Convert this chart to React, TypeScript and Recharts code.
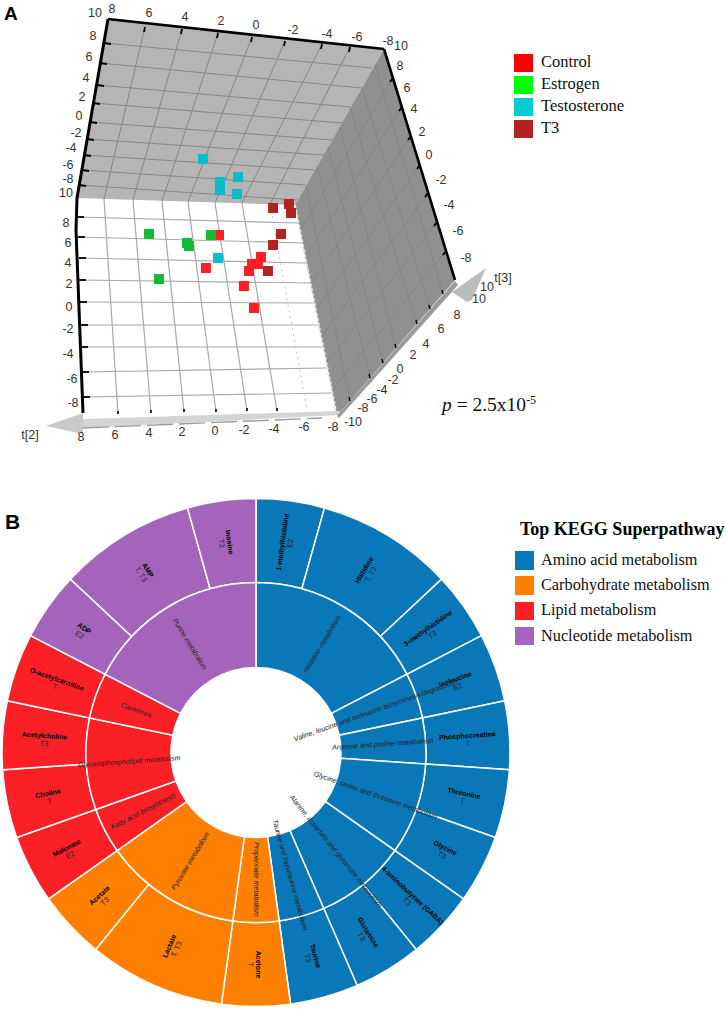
import React from "react";
import { ScatterChart, Scatter, XAxis, YAxis, PieChart, Pie, Cell } from "recharts";

// ---------- Panel A: score values (t[2], t[1]) ----------
const controlScores = [
  { u: -0.25, v: 6.64 }, { u: 0.57, v: 3.55 }, { u: -2.33, v: 3.93 }, { u: -2.89, v: 4.58 },
  { u: -2.7, v: 3.93 }, { u: -2.14, v: 3.27 }, { u: -1.82, v: 1.87 }, { u: -2.45, v: -0.19 },
];
const estrogenScores = [
  { u: 4.15, v: 6.73 }, { u: 1.76, v: 5.89 }, { u: 1.64, v: 5.61 }, { u: 0.25, v: 6.64 }, { u: 3.52, v: 2.52 },
];
const testosteroneScores = [
  { u: 0.75, v: 13.74 }, { u: -0.31, v: 11.59 }, { u: -0.31, v: 10.84 }, { u: -1.45, v: 12.06 },
  { u: -1.38, v: 10.47 }, { u: -0.19, v: 4.49 },
];
const t3Scores = [
  { u: -3.65, v: 9.16 }, { u: -4.65, v: 9.53 }, { u: -4.78, v: 8.69 }, { u: -4.15, v: 6.73 },
  { u: -3.65, v: 5.7 }, { u: -3.33, v: 3.27 },
];
const legendA = [
  { name: "Control", color: "#ff0000" },
  { name: "Estrogen", color: "#00ff00" },
  { name: "Testosterone", color: "#00ccd2" },
  { name: "T3", color: "#b22222" },
];

// Projection of the 3D box onto the picture plane
const A_W = 726, A_H = 470, U0 = 215, SX = 15.9, V0 = 306, SY = 10.7;
const u = (p: number) => (U0 - p) / SX;
const v = (p: number) => (V0 - p) / SY;
const P = (p: number[]) => ({ u: u(p[0]), v: v(p[1]) });

const backWall = [[108, 19], [384, 49], [295, 205], [77, 198]];
const sideWall = [[384, 49], [455, 280], [337, 416], [295, 205]];
const backVertical = [[145, 27, 104, 199], [182, 29, 133, 200], [218, 33, 162, 201], [252, 37, 188, 202], [285, 41, 215, 203], [322, 44, 242, 203], [350, 47, 270, 204]];
const backHorizontal = [[104, 43, 372, 68], [100, 63, 362, 88], [97, 85, 351, 107], [93, 103, 342, 123], [90, 122, 332, 140], [87, 139, 324, 155], [84, 155, 315, 170], [82, 170, 306, 185], [79, 185, 297, 200]];
const frontVertical = [[104, 199, 118, 414], [133, 200, 151, 413], [162, 201, 184, 412], [188, 202, 216, 412], [215, 203, 247, 411], [242, 203, 277, 411]];
const frontHorizontal = [[77, 217, 299, 223], [78, 237, 303, 243], [79, 258, 307, 263], [79, 280, 311, 283], [80, 302, 314, 303], [81, 325, 319, 325], [81, 347, 323, 347], [82, 372, 327, 368], [83, 397, 332, 393]];
const sideFamilyA = [[393, 78, 300, 231], [402, 107, 305, 258], [411, 136, 311, 284], [420, 165, 316, 310], [428, 193, 321, 337], [437, 222, 326, 363], [446, 251, 332, 390]];
const sideFamilyB = [[375, 65, 443, 294], [362, 88, 430, 309], [350, 108, 417, 324], [340, 127, 396, 348], [328, 147, 383, 363], [317, 166, 370, 378], [306, 186, 350, 401]];
const blackEdges = [
  { pts: [[108, 19], [77, 198], [76, 230], [83, 413]], w: 3 },
  { pts: [[108, 19], [384, 49]], w: 2.6 },
  { pts: [[384, 49], [455, 280]], w: 2.6 },
];
const floorBandA = [[83, 419], [340, 411], [340, 415], [83, 428]];
const floorBandB = [[337, 416], [455, 281], [458, 285], [339, 418]];
const arrowA = [[83, 413], [83, 434], [46, 426]];
const arrowB = [[486, 268], [452, 292], [467, 302], [472, 300]];
const tickLabels: [number, number, string][] = [
  [95, 13, "10"], [112, 9, "8"], [149, 13, "6"], [185, 17, "4"], [221, 21, "2"], [256, 25, "0"], [293, 30, "-2"], [327, 34, "-4"], [357, 37, "-6"], [388, 41, "-8"],
  [401, 46, "10"], [400, 66, "8"], [407, 88, "6"], [414, 109, "4"], [422, 132, "2"], [429, 155, "0"], [441, 180, "-2"], [449, 205, "-4"], [458, 231, "-6"], [466, 258, "-8"],
  [93, 36, "8"], [89, 57, "6"], [86, 78, "4"], [82, 97, "2"], [79, 116, "0"], [76, 133, "-2"], [71, 148, "-4"], [68, 165, "-6"], [68, 179, "-8"], [66, 193, "10"],
  [66, 223, "8"], [68, 243, "6"], [68, 263, "4"], [69, 284, "2"], [69, 307, "0"], [68, 329, "-2"], [68, 354, "-4"], [72, 379, "-6"], [73, 403, "-8"],
  [81, 437, "8"], [115, 435, "6"], [149, 433, "4"], [182, 432, "2"], [215, 431, "0"], [244, 430, "-2"], [274, 429, "-4"], [304, 427, "-6"], [333, 427, "-8"],
  [353, 422, "-10"], [363, 408, "-8"], [372, 399, "-6"], [382, 390, "-4"], [393, 380, "-2"], [400, 369, "0"], [413, 355, "2"], [426, 344, "4"], [441, 329, "6"], [457, 315, "8"], [479, 299, "10"], [487, 287, "10"],
  [30, 435, "t[2]"], [503, 278, "t[3]"],
];

// ---------- Panel B: sunburst, weights = number of groups a metabolite is significant in ----------
const leafNames = ["1-methylhistidine", "Histidine", "3-methylhistidine", "Isoleucine", "Phosphocreatine", "Threonine", "Glycine", "4-aminobutyrate (GABA)", "Glutamine", "Taurine", "Acetone", "Lactate", "Acetate", "Malonate", "Choline", "Acetylcholine", "O-acetylcarnitine", "ADP", "AMP", "Inosine"];
const leafTags = ["E2", "T, T3", "T3", "E2", "T", "T", "T3", "T3", "T3", "T3", "T", "T, T3", "T3", "E2", "T", "T3", "T", "E2", "T, T3", "T3"];
const leafWeights = [1, 2, 1, 1, 1, 1, 1, 1, 1, 1, 1, 2, 1, 1, 1, 1, 1, 1, 2, 1];
const leafClass = [0, 0, 0, 0, 0, 0, 0, 0, 0, 0, 1, 1, 1, 2, 2, 2, 2, 3, 3, 3];
const pathwayNames = ["Histidine metabolism", "Valine, leucine and isoleucine biosynthesis/degradation", "Arginine and proline metabolism", "Glycine, serine and threonine metabolism", "Alanine, aspartate and glutamate metabolism", "Taurine and hypotaurine metabolism", "Propanoate metabolism", "Pyruvate metabolism", "Fatty acid biosynthesis", "Glycerophospholipid metabolism", "Carnitines", "Purine metabolism"];
const pathwayWeights = [4, 1, 1, 2, 2, 1, 1, 3, 1, 2, 1, 4];
const pathwayClass = [0, 0, 0, 0, 0, 0, 1, 1, 2, 2, 2, 3];
const superNames = ["Amino acid metabolism", "Carbohydrate metabolism", "Lipid metabolism", "Nucleotide metabolism"];
const superColors = ["#0a78b8", "#ff8000", "#fb2026", "#a564bb"];

const leafData = leafNames.map((name, i) => ({ name, value: leafWeights[i], tag: leafTags[i], fill: superColors[leafClass[i]] }));
const pathwayData = pathwayNames.map((name, i) => ({ name, value: pathwayWeights[i], fill: superColors[pathwayClass[i]] }));

const SANS = "'Liberation Sans', Arial, sans-serif";
const SERIF = "'Liberation Serif', 'Times New Roman', serif";
const NoMark = () => null;

const seg = (s: number[]) => [P([s[0], s[1]]), P([s[2], s[3]])];

const polygon = (pts: number[][], fill: string, key: string) => (
  <Scatter key={key} data={[...pts, pts[0]].map(P)} shape={NoMark} isAnimationActive={false}
    line={{ stroke: "none", fill }} />
);
const segment = (s: number[], stroke: string, w: number, key: string, dash?: string, opacity = 1) => (
  <Scatter key={key} data={seg(s)} shape={NoMark} isAnimationActive={false}
    line={{ stroke, strokeWidth: w, strokeDasharray: dash, strokeOpacity: opacity }} />
);

const radial = (p: any, r: number) => {
  const a = 90 - p.midAngle;
  const rad = (a * Math.PI) / 180;
  const x = p.cx + r * Math.sin(rad);
  const y = p.cy - r * Math.cos(rad);
  const rot = a < 180.01 ? a - 90 : a - 270;
  return { x, y, rot };
};

const leafLabel = (p: any) => {
  const { x, y, rot } = radial(p, 212);
  return (
    <g transform={`rotate(${rot} ${x} ${y})`}>
      <text x={x} y={y} textAnchor="middle" fontFamily={SANS} fontSize={7} fontWeight={700} fill="#000">{leafNames[p.index]}</text>
      <text x={x} y={y + 8} textAnchor="middle" fontFamily={SANS} fontSize={7.4} fill="#222">{leafTags[p.index]}</text>
    </g>
  );
};
const pathwayLabel = (p: any) => {
  const { x, y, rot } = radial(p, 127);
  return (
    <g transform={`rotate(${rot} ${x} ${y})`}>
      <text x={x} y={y + 2.5} textAnchor="middle" fontFamily={SANS} fontSize={7.1} fontStyle="italic" fill="#222">{pathwayNames[p.index]}</text>
    </g>
  );
};

const tickText = (p: any) => (
  <text x={p.cx} y={p.cy} textAnchor="middle" dominantBaseline="central" fontFamily={SANS} fontSize={12.5} fill="#333">{p.payload.t}</text>
);
const squareMark = (p: any) => <rect x={p.cx - 5} y={p.cy - 5} width={10} height={10} fill={p.fill} />;

const Abs = ({ x, y, style, children }: any) => (
  <div style={{ position: "absolute", left: x, top: y, whiteSpace: "nowrap", ...style }}>{children}</div>
);

export default function App() {
  return (
    <div style={{ position: "absolute", left: 0, top: 0, width: 726, height: 1011, background: "#fff", overflow: "hidden" }}>
      <div style={{ position: "absolute", left: 0, top: 0 }}>
        <ScatterChart width={A_W} height={A_H} margin={{ top: 0, right: 0, bottom: 0, left: 0 }}>
          <XAxis hide type="number" dataKey="u" reversed allowDataOverflow domain={[u(A_W), u(0)]} />
          <YAxis hide type="number" dataKey="v" allowDataOverflow domain={[v(A_H), v(0)]} />
          {polygon(backWall, "#b5b5b5", "back")}
          {polygon(sideWall, "#909090", "side")}
          {backVertical.map((s, i) => segment(s, "#858585", 1, `bv${i}`))}
          {backHorizontal.map((s, i) => segment(s, "#858585", 1, `bh${i}`))}
          {sideFamilyA.map((s, i) => segment(s, "#808080", 0.8, `sa${i}`))}
          {sideFamilyB.map((s, i) => segment(s, "#808080", 0.8, `sb${i}`))}
          {frontVertical.map((s, i) => segment(s, "#a8a8a8", 1.2, `fv${i}`))}
          {segment([270, 204, 307, 410], "#c4c4c4", 1, "fvd", "2 4")}
          {frontHorizontal.map((s, i) => segment(s, "#a8a8a8", 1.2, `fh${i}`))}
          {segment([295, 205, 337, 416], "#e6e6e6", 2, "edge", "3 2")}
          {polygon(floorBandA, "#d4d4d4", "bandA")}
          {segment([83, 428, 322, 418], "#9a9a9a", 1.4, "bandA2", "26 6")}
          {polygon(floorBandB, "#9a9a9a", "bandB")}
          {polygon(arrowA, "#c9c9c9", "arrA")}
          {blackEdges.map((e, i) => (
            <Scatter key={`ed${i}`} data={e.pts.map(P)} shape={NoMark} isAnimationActive={false}
              line={{ stroke: "#000", strokeWidth: e.w }} />
          ))}
          {backVertical.map((s, i) => segment([s[0], s[1], s[0] - 1, s[1] + 5], "#000", 1.8, `tt${i}`))}
          {backHorizontal.map((s, i) => segment([s[0], s[1], s[0] + 7, s[1] + 1], "#000", 1.8, `tl${i}`))}
          {frontHorizontal.map((s, i) => segment([s[0], s[1], s[0] + 7, s[1]], "#000", 1.8, `fl${i}`))}
          {sideFamilyA.map((s, i) => segment([s[0], s[1], s[0] - 3, s[1] + 4], "#000", 1.8, `tr${i}`))}
          {frontVertical.map((s, i) => segment([s[2], s[3] - 3, s[2], s[3]], "#000", 1.6, `tb${i}`))}
          {sideFamilyB.map((s, i) => segment([s[2], s[3], s[2] - 1, s[3] - 4], "#000", 1.4, `tc${i}`))}
          {polygon(arrowB, "#bcbcbc", "arrB")}
          <Scatter data={tickLabels.map(([x, y, t]) => ({ ...P([x, y]), t }))} shape={tickText} isAnimationActive={false} />
          <Scatter name="Control" data={controlScores} fill="#fb1f25" shape={squareMark} isAnimationActive={false} />
          <Scatter name="Estrogen" data={estrogenScores} fill="#11bb33" shape={squareMark} isAnimationActive={false} />
          <Scatter name="Testosterone" data={testosteroneScores} fill="#08bccb" shape={squareMark} isAnimationActive={false} />
          <Scatter name="T3" data={t3Scores} fill="#b22222" shape={squareMark} isAnimationActive={false} />
        </ScatterChart>
      </div>

      <div style={{ position: "absolute", left: 0, top: 470 }}>
        <PieChart width={726} height={541} margin={{ top: 0, right: 0, bottom: 0, left: 0 }}>
          <Pie data={leafData} dataKey="value" cx={256} cy={282.5} innerRadius={170} outerRadius={254}
            startAngle={90} endAngle={-270} stroke="#fff" strokeWidth={1.5} label={leafLabel} labelLine={false} isAnimationActive={false}>
            {leafData.map((d, i) => <Cell key={i} fill={d.fill} />)}
          </Pie>
          <Pie data={pathwayData} dataKey="value" cx={256} cy={282.5} innerRadius={85} outerRadius={170}
            startAngle={90} endAngle={-270} stroke="#fff" strokeWidth={1.5} label={pathwayLabel} labelLine={false} isAnimationActive={false}>
            {pathwayData.map((d, i) => <Cell key={i} fill={d.fill} />)}
          </Pie>
        </PieChart>
      </div>

      <Abs x={4} y={0} style={{ fontFamily: SANS, fontWeight: 700, fontSize: 19, lineHeight: "28px" }}>A</Abs>
      <Abs x={5} y={508} style={{ fontFamily: SANS, fontWeight: 700, fontSize: 21, lineHeight: "28px" }}>B</Abs>

      {legendA.map((d, i) => (
        <React.Fragment key={d.name}>
          <div style={{ position: "absolute", left: 514, top: 53.5 + i * 22, width: 19, height: 18.5, background: d.color }} />
          <Abs x={541} y={52 + i * 22} style={{ fontFamily: SERIF, fontSize: 16.5, lineHeight: "20px", color: "#111" }}>{d.name}</Abs>
        </React.Fragment>
      ))}
      <Abs x={442} y={392} style={{ fontFamily: SERIF, fontSize: 19.5, lineHeight: "26px", color: "#111" }}>
        <i>p</i> = 2.5x10<sup style={{ fontSize: 12, lineHeight: 0 }}>-5</sup>
      </Abs>

      <Abs x={520} y={518} style={{ fontFamily: SERIF, fontWeight: 700, fontSize: 18, lineHeight: "22px", color: "#000" }}>Top KEGG Superpathway</Abs>
      {superNames.map((name, i) => (
        <React.Fragment key={name}>
          <div style={{ position: "absolute", left: 515, top: 551 + i * 25.3, width: 18.5, height: 18.5, background: superColors[i] }} />
          <Abs x={541} y={550 + i * 25.2} style={{ fontFamily: SERIF, fontSize: 16.3, lineHeight: "20px", color: "#111" }}>{name}</Abs>
        </React.Fragment>
      ))}
    </div>
  );
}
